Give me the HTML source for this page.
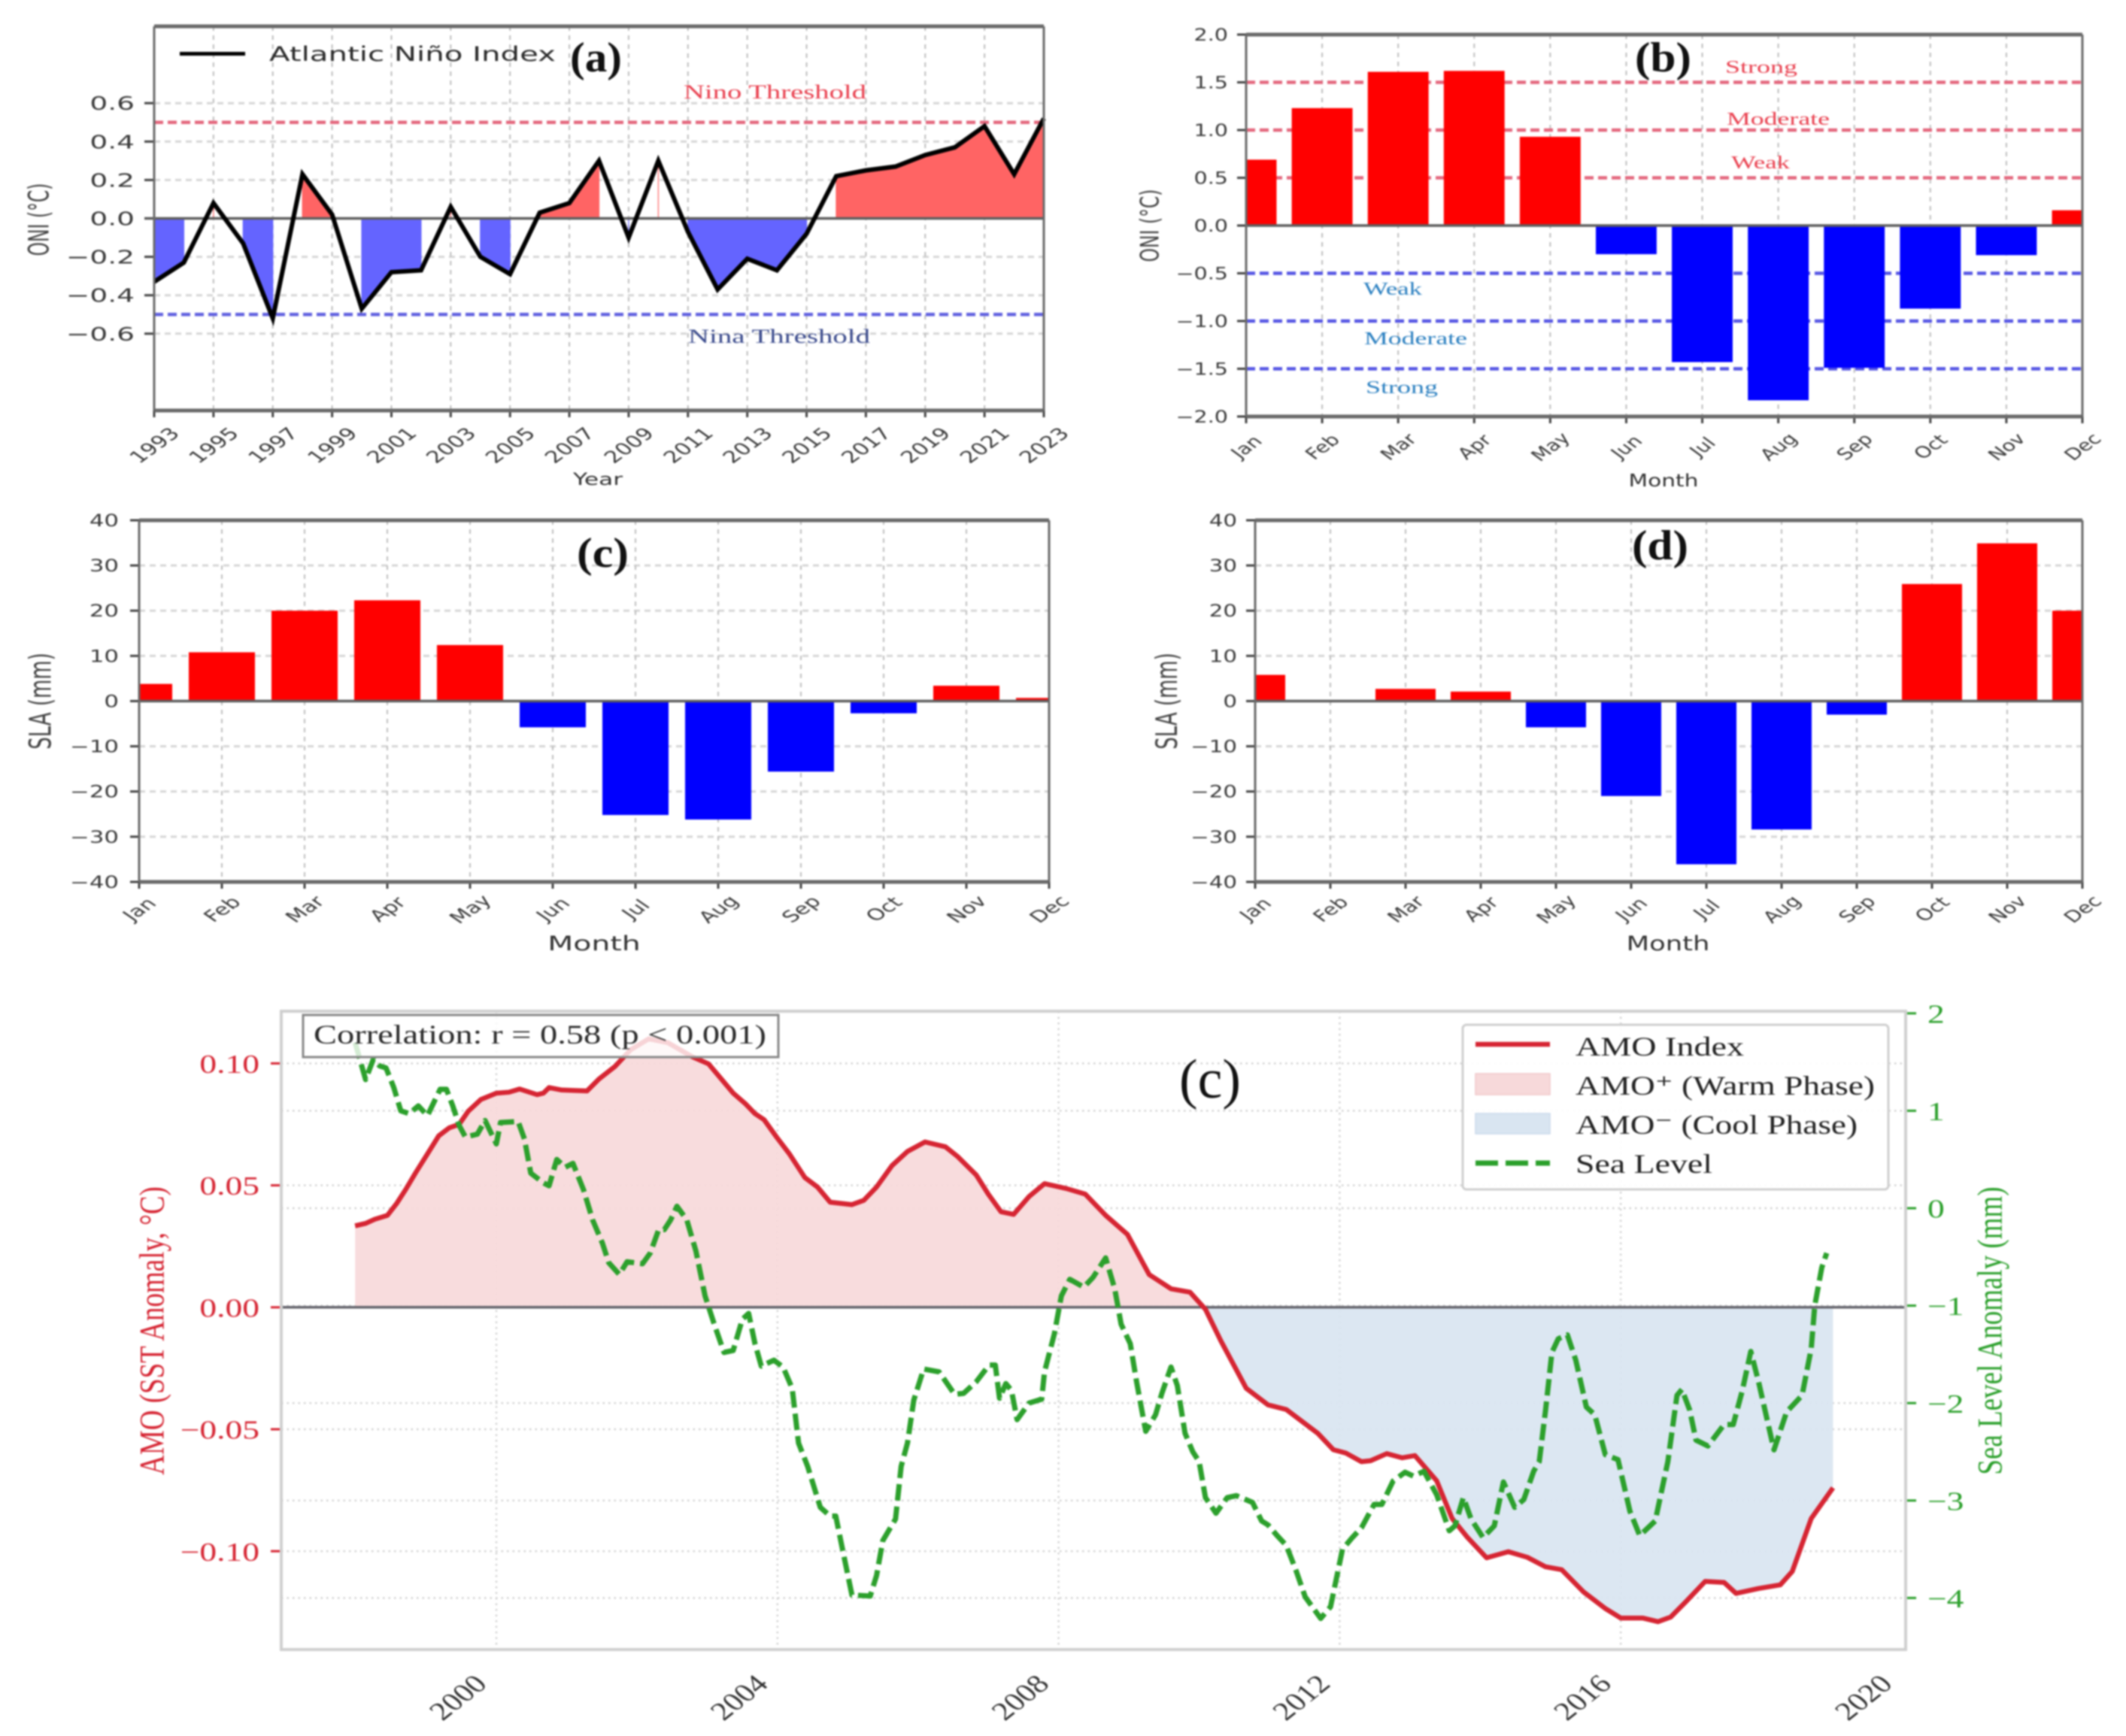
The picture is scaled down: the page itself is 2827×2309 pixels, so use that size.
<!DOCTYPE html>
<html lang="en">
<head>
<meta charset="utf-8">
<title>Atlantic Niño, ONI, SLA and AMO panels</title>
<style>
html,body{margin:0;padding:0;background:#fff;width:2827px;height:2309px;overflow:hidden}
svg{display:block;filter:blur(1px)}
</style>
</head>
<body>
<svg id="fig" xmlns="http://www.w3.org/2000/svg" width="2827" height="2309" viewBox="0 0 2827 2309"></svg>
<script>
// ---------- chart data ----------
const months = ['Jan','Feb','Mar','Apr','May','Jun','Jul','Aug','Sep','Oct','Nov','Dec'];
const ninoYears = [1993,1994,1995,1996,1997,1998,1999,2000,2001,2002,2003,2004,2005,2006,2007,2008,2009,2010,2011,2012,2013,2014,2015,2016,2017,2018,2019,2020,2021,2022,2023];
const ninoValues = [-0.33,-0.23,0.08,-0.13,-0.52,0.23,0.02,-0.47,-0.28,-0.27,0.06,-0.2,-0.29,0.03,0.08,0.3,-0.1,0.3,-0.07,-0.37,-0.21,-0.27,-0.08,0.22,0.25,0.27,0.33,0.37,0.48,0.23,0.52];
const ninoYTicks = [-0.6,-0.4,-0.2,0,0.2,0.4,0.6];
const ninoXTicks = [1993,1995,1997,1999,2001,2003,2005,2007,2009,2011,2013,2015,2017,2019,2021,2023];
const oniMonthly = [0.69,1.23,1.61,1.62,0.93,-0.3,-1.43,-1.83,-1.49,-0.87,-0.31,0.16];
const oniYTicks = [-2,-1.5,-1,-0.5,0,0.5,1,1.5,2];
const oniThresholds = [1.5,1,0.5,-0.5,-1,-1.5];
const slaMonthlyC = [3.8,10.8,20,22.3,12.4,-5.8,-25.2,-26.2,-15.6,-2.7,3.4,0.7];
const slaMonthlyD = [5.8,0,2.7,2.1,-5.8,-21,-36.1,-28.4,-3,25.9,34.9,20];
const slaYTicks = [-40,-30,-20,-10,0,10,20,30,40];
const amoYears = [1997.99,1998.14,1998.27,1998.45,1998.58,1998.71,1998.85,1999.02,1999.18,1999.33,1999.47,1999.6,1999.78,2000,2000.18,2000.33,2000.58,2000.67,2000.75,2000.93,2001.29,2001.46,2001.69,2001.91,2002.17,2002.44,2002.79,2003.02,2003.19,2003.37,2003.55,2003.68,2003.81,2003.99,2004.17,2004.39,2004.57,2004.75,2005.06,2005.23,2005.41,2005.63,2005.85,2006.1,2006.39,2006.56,2006.83,2007,2007.18,2007.36,2007.58,2007.8,2008.11,2008.38,2008.67,2008.98,2009.29,2009.6,2009.87,2010.09,2010.31,2010.67,2010.98,2011.24,2011.69,2011.91,2012.09,2012.31,2012.44,2012.67,2012.89,2013.07,2013.38,2013.6,2013.82,2014.09,2014.4,2014.67,2014.93,2015.16,2015.47,2015.78,2016,2016.31,2016.53,2016.71,2016.93,2017.2,2017.47,2017.64,2017.96,2018.27,2018.44,2018.71,2019.02];
const amoValues = [0.0334,0.0344,0.0361,0.0377,0.0425,0.0483,0.0551,0.0629,0.0703,0.0736,0.075,0.0804,0.0852,0.0878,0.0882,0.0895,0.0872,0.0878,0.0901,0.0891,0.0887,0.0936,0.0988,0.1056,0.1101,0.1085,0.1027,0.0998,0.094,0.0878,0.0833,0.0794,0.0769,0.0697,0.0629,0.0532,0.0493,0.0431,0.0421,0.0439,0.0493,0.0581,0.0639,0.0678,0.0658,0.0619,0.0542,0.0464,0.0392,0.0381,0.0454,0.0507,0.0487,0.0464,0.0377,0.0299,0.0134,0.0076,0.0062,-0.0008,-0.0138,-0.0332,-0.04,-0.0419,-0.0517,-0.0584,-0.0598,-0.0633,-0.0629,-0.06,-0.0617,-0.0608,-0.0711,-0.0866,-0.0944,-0.1027,-0.1002,-0.1025,-0.1064,-0.1076,-0.1167,-0.1235,-0.1274,-0.1274,-0.1289,-0.127,-0.1206,-0.1124,-0.1128,-0.1173,-0.1153,-0.1138,-0.1083,-0.0866,-0.074];
const seaYears = [1997.99,1998.14,1998.25,1998.34,1998.43,1998.54,1998.64,1998.76,1998.89,1999.02,1999.2,1999.29,1999.38,1999.47,1999.56,1999.73,1999.84,2000,2000.06,2000.31,2000.4,2000.49,2000.67,2000.75,2000.86,2000.98,2001.09,2001.24,2001.37,2001.51,2001.6,2001.75,2001.86,2002.08,2002.19,2002.31,2002.39,2002.48,2002.57,2002.71,2002.84,2002.97,2003.1,2003.24,2003.37,2003.5,2003.59,2003.68,2003.77,2003.95,2004.08,2004.21,2004.3,2004.43,2004.61,2004.75,2004.83,2004.92,2005.06,2005.32,2005.41,2005.5,2005.68,2005.76,2005.85,2005.94,2006.08,2006.3,2006.52,2006.65,2006.83,2007.01,2007.1,2007.16,2007.25,2007.33,2007.41,2007.58,2007.76,2007.8,2007.94,2008.04,2008.16,2008.36,2008.49,2008.67,2008.8,2008.89,2009.02,2009.11,2009.24,2009.38,2009.47,2009.6,2009.69,2009.8,2009.91,2010,2010.09,2010.24,2010.4,2010.53,2010.76,2010.89,2010.98,2011.11,2011.24,2011.38,2011.51,2011.73,2011.87,2012.04,2012.18,2012.31,2012.49,2012.6,2012.76,2012.93,2013.05,2013.2,2013.38,2013.56,2013.64,2013.76,2013.87,2014.04,2014.2,2014.33,2014.49,2014.62,2014.76,2014.84,2014.93,2015.02,2015.11,2015.24,2015.36,2015.51,2015.63,2015.78,2015.96,2016.13,2016.27,2016.49,2016.67,2016.8,2016.87,2016.98,2017.07,2017.24,2017.47,2017.6,2017.73,2017.85,2017.96,2018.18,2018.36,2018.58,2018.71,2018.76,2018.86,2018.93];
const seaValues = [1.7,1.32,1.53,1.46,1.44,1.24,1,0.97,1.05,0.95,1.22,1.22,1.05,0.85,0.73,0.76,0.9,0.66,0.88,0.89,0.71,0.36,0.26,0.23,0.5,0.42,0.46,0.19,-0.12,-0.36,-0.56,-0.68,-0.55,-0.57,-0.46,-0.22,-0.22,-0.12,0.02,-0.12,-0.44,-0.9,-1.19,-1.48,-1.46,-1.14,-1.08,-1.39,-1.62,-1.56,-1.63,-1.85,-2.41,-2.65,-3.07,-3.16,-3.16,-3.48,-3.97,-3.98,-3.77,-3.41,-3.19,-2.65,-2.41,-1.97,-1.65,-1.68,-1.91,-1.9,-1.78,-1.61,-1.61,-1.95,-1.8,-1.87,-2.17,-2,-1.96,-1.68,-1.29,-0.9,-0.73,-0.81,-0.71,-0.51,-0.83,-1.19,-1.39,-1.78,-2.29,-2.12,-1.9,-1.63,-1.82,-2.31,-2.5,-2.6,-2.97,-3.13,-2.97,-2.95,-3.02,-3.21,-3.25,-3.36,-3.46,-3.72,-3.99,-4.21,-4.09,-3.5,-3.38,-3.28,-3.04,-3.04,-2.8,-2.71,-2.75,-2.7,-2.94,-3.31,-3.26,-2.97,-3.19,-3.38,-3.26,-2.81,-3.07,-2.99,-2.7,-2.6,-2.07,-1.48,-1.34,-1.3,-1.56,-2.04,-2.12,-2.53,-2.58,-3.11,-3.36,-3.21,-2.6,-1.92,-1.86,-2.07,-2.38,-2.44,-2.22,-2.22,-1.87,-1.47,-1.78,-2.48,-2.09,-1.92,-1.44,-1,-0.61,-0.46];
const amoLeftTicks = [-0.1,-0.05,0,0.05,0.1];
const amoRightTicks = [-4,-3,-2,-1,0,1,2];
const amoXTicks = [2000,2004,2008,2012,2016,2020];

// ---------- helpers ----------
const SVG_NS = 'http://www.w3.org/2000/svg';
const fig = document.getElementById('fig');
const DEJAVU = '"DejaVu Sans", sans-serif';
const SERIF = '"Liberation Serif", serif';
let clipCount = 0;

function add(parent, tagName, attrs) {
  const el = document.createElementNS(SVG_NS, tagName);
  for (const k in attrs) el.setAttribute(k, attrs[k]);
  parent.appendChild(el);
  return el;
}
function mark(el, name) {
  
  
  return el;
}
function scale(d0, d1, r0, r1) {
  return function (v) { return r0 + (v - d0) * (r1 - r0) / (d1 - d0); };
}
function minusFmt(v, digits) {
  return (v < 0 ? '\u2212' : '') + Math.abs(v).toFixed(digits);
}
// stretched text: anamorphic x scale is applied after rotation, like the squeezed source image
function stretchText(parent, str, x, y, o) {
  const el = add(parent, 'text', {
    transform: 'translate(' + x + ',' + y + ') scale(' + (o.sx || 1) + ',1) rotate(' + (o.rot || 0) + ')',
    'font-family': o.family || DEJAVU,
    'font-size': o.size,
    'font-weight': o.weight || 'normal',
    fill: o.fill || '#333',
    'text-anchor': o.anchor || 'middle'
  });
  if (o.central) el.setAttribute('dy', '0.36em');
  el.textContent = str;
  return el;
}
// fixed-width text: glyphs stretched to an exact pixel length
function fitText(parent, str, x, y, len, o) {
  const el = add(parent, 'text', {
    x: x, y: y, textLength: len, lengthAdjust: 'spacingAndGlyphs',
    'font-family': o.family || SERIF,
    'font-size': o.size,
    'font-weight': o.weight || 'normal',
    fill: o.fill || '#222'
  });
  el.textContent = str;
  return el;
}
function makeClip(x, y, w, h) {
  const id = 'clip' + (clipCount++);
  const cp = add(fig, 'clipPath', { id: id });
  add(cp, 'rect', { x: x, y: y, width: w, height: h });
  return 'url(#' + id + ')';
}
function frame(g, box, prefix) {
  const sides = [
    ['top', box.l, box.t, box.r, box.t, 5],
    ['bottom', box.l, box.b, box.r, box.b, 5],
    ['left', box.l, box.t, box.l, box.b, 3],
    ['right', box.r, box.t, box.r, box.b, 3]
  ];
  sides.forEach(function (s) {
    const line = add(g, 'line', { x1: s[1], y1: s[2], x2: s[3], y2: s[4], stroke: '#6a6a6a', 'stroke-width': s[5] });
    mark(line, prefix + '-spine-' + s[0]);
  });
}
function hGrid(g, box, y, name) {
  const line = add(g, 'line', { x1: box.l, y1: y, x2: box.r, y2: y, stroke: '#d6d6d6', 'stroke-width': 3, 'stroke-dasharray': '8 6' });
  mark(line, name);
}
function vGrid(g, box, x, name) {
  const line = add(g, 'line', { x1: x, y1: box.t, x2: x, y2: box.b, stroke: '#bdbdbd', 'stroke-width': 2, 'stroke-dasharray': '6 6' });
  mark(line, name);
}
function tickMark(g, x1, y1, x2, y2, color, name) {
  const line = add(g, 'line', { x1: x1, y1: y1, x2: x2, y2: y2, stroke: color, 'stroke-width': 3 });
  mark(line, name);
}

// ---------- panel (a) ----------
(function () {
  const g = add(fig, 'g', {});
  mark(g, 'panel-a-atlantic-nino');
  const box = { l: 205, r: 1388, t: 35, b: 546 };
  const x = scale(1993, 2023, box.l, box.r);
  const y = scale(-1, 1, box.b, box.t);
  ninoYTicks.forEach(function (v) {
    if (v !== 0) hGrid(g, box, y(v), 'panel-a-y-grid');
    tickMark(g, box.l - 13, y(v), box.l, y(v), '#444', 'panel-a-y-tick');
    mark(stretchText(g, minusFmt(v, 1), 179, y(v), { size: 25, sx: 1.5, anchor: 'end', central: true, fill: '#3a3a3a' }), 'panel-a-y-tick-label');
  });
  ninoXTicks.forEach(function (v) {
    if (v !== 1993 && v !== 2023) vGrid(g, box, x(v), 'panel-a-x-grid');
    tickMark(g, x(v), box.b, x(v), box.b + 9, '#444', 'panel-a-x-tick');
    mark(stretchText(g, String(v), x(v), 592, { size: 22, sx: 1.39, rot: -45, central: true, fill: '#3a3a3a' }), 'panel-a-x-tick-label');
  });
  // fills: consecutive same-sign runs, without interpolating across zero
  let run = [];
  function flush() {
    if (!run.length) return;
    const positive = ninoValues[run[0]] > 0;
    const pts = run.map(function (i) { return x(ninoYears[i]) + ',' + y(ninoValues[i]); });
    pts.push(x(ninoYears[run[run.length - 1]]) + ',' + y(0));
    pts.push(x(ninoYears[run[0]]) + ',' + y(0));
    const col = positive ? '#ff6464' : '#6464ff';
    const area = add(g, 'polygon', { points: pts.join(' '), fill: col, stroke: col, 'stroke-width': 1.2 });
    mark(area, positive ? 'panel-a-positive-fill' : 'panel-a-negative-fill');
    run = [];
  }
  ninoValues.forEach(function (v, i) {
    if (run.length && (ninoValues[run[0]] > 0) !== (v > 0)) flush();
    run.push(i);
  });
  flush();
  [[0.5, '#e4687e', 'panel-a-nino-threshold-line'], [-0.5, '#6262e0', 'panel-a-nina-threshold-line']].forEach(function (t) {
    const line = add(g, 'line', { x1: box.l, y1: y(t[0]), x2: box.r, y2: y(t[0]), stroke: t[1], 'stroke-width': 4.5, 'stroke-dasharray': '12 6' });
    mark(line, t[2]);
  });
  const zero = add(g, 'line', { x1: box.l - 13, y1: y(0), x2: box.r, y2: y(0), stroke: '#5e5e5e', 'stroke-width': 3.5 });
  mark(zero, 'panel-a-zero-line');
  const clip = makeClip(box.l - 3, box.t, box.r - box.l + 6, box.b - box.t);
  const path = add(g, 'polyline', {
    points: ninoValues.map(function (v, i) { return x(ninoYears[i]) + ',' + y(v); }).join(' '),
    fill: 'none', stroke: '#000', 'stroke-width': 6, 'stroke-linejoin': 'miter', 'clip-path': clip
  });
  mark(path, 'panel-a-nino-index-line');
  frame(g, box, 'panel-a');
  const legendLine = add(g, 'line', { x1: 239, y1: 71.5, x2: 326, y2: 71.5, stroke: '#000', 'stroke-width': 5 });
  mark(legendLine, 'panel-a-legend-line');
  mark(fitText(g, 'Atlantic Ni\u00f1o Index', 358, 81, 381, { family: DEJAVU, size: 27, fill: '#2a2a2a' }), 'panel-a-legend-label');
  mark(fitText(g, '(a)', 758, 95, 69, { size: 56, weight: 'bold', fill: '#111' }), 'panel-a-title');
  mark(fitText(g, 'Nino Threshold', 909, 131, 243, { size: 26, fill: '#e9404f' }), 'nino-threshold-label');
  mark(fitText(g, 'Nina Threshold', 915, 456, 242, { size: 26, fill: '#3a4a8c' }), 'nina-threshold-label');
  mark(stretchText(g, 'ONI (\u00b0C)', 51, 292, { size: 23.5, sx: 1.6, rot: -90, central: true, fill: '#444' }), 'panel-a-y-axis-title');
  mark(stretchText(g, 'Year', 795, 645, { size: 22, sx: 1.42, fill: '#333' }), 'panel-a-x-axis-title');
})();

// ---------- monthly bar panels ----------
function barPanel(cfg) {
  const g = add(fig, 'g', {});
  mark(g, cfg.id);
  const box = cfg.box;
  const x = scale(0, 11, box.l, box.r);
  const y = scale(cfg.yMin, cfg.yMax, box.b, box.t);
  const thresholds = cfg.thresholds || [];
  const step = x(1) - x(0);
  cfg.yTicks.forEach(function (v) {
    if (v !== 0 && v !== cfg.yMin && v !== cfg.yMax && thresholds.indexOf(v) < 0) hGrid(g, box, y(v), cfg.prefix + '-y-grid');
    tickMark(g, box.l - 12, y(v), box.l, y(v), '#444', cfg.prefix + '-y-tick');
    mark(stretchText(g, minusFmt(v, cfg.digits), cfg.yLabelX, y(v), { size: 22, sx: cfg.sx, anchor: 'end', central: true, fill: '#3a3a3a' }), cfg.prefix + '-y-tick-label');
  });
  months.forEach(function (m, i) {
    if (i > 0 && i < 11) vGrid(g, box, x(i), cfg.prefix + '-x-grid');
    tickMark(g, x(i), box.b, x(i), box.b + 9, '#444', cfg.prefix + '-x-tick');
    mark(stretchText(g, m, x(i), cfg.xLabelY, { size: 21, sx: cfg.sx + 0.05, rot: -45, central: true, fill: '#3a3a3a' }), cfg.prefix + '-x-tick-label');
  });
  thresholds.forEach(function (t) {
    const line = add(g, 'line', { x1: box.l, y1: y(t), x2: box.r, y2: y(t), stroke: t > 0 ? '#e4687e' : '#5656e4', 'stroke-width': 4.5, 'stroke-dasharray': '12 6' });
    mark(line, cfg.prefix + '-threshold-line');
  });
  const clip = makeClip(box.l, box.t, box.r - box.l, box.b - box.t);
  cfg.values.forEach(function (v, i) {
    const w = step * 0.8;
    const bar = add(g, 'rect', {
      x: x(i) - w / 2, y: Math.min(y(v), y(0)), width: w, height: Math.abs(y(v) - y(0)),
      fill: v >= 0 ? '#ff0000' : '#0000ff', 'clip-path': clip
    });
    mark(bar, cfg.prefix + '-bar-' + months[i].toLowerCase());
  });
  const zero = add(g, 'line', { x1: box.l, y1: y(0), x2: box.r, y2: y(0), stroke: '#5e5e5e', 'stroke-width': 3.5 });
  mark(zero, cfg.prefix + '-zero-line');
  frame(g, box, cfg.prefix);
  mark(stretchText(g, cfg.yTitle, cfg.yTitleX, y(0), { size: cfg.yTitleSize, sx: cfg.yTitleSx, rot: -90, central: true, fill: '#444' }), cfg.prefix + '-y-axis-title');
  mark(stretchText(g, 'Month', cfg.xTitleX, cfg.xTitleY, { size: cfg.xTitleSize, sx: cfg.xTitleSx, fill: '#333' }), cfg.prefix + '-x-axis-title');
  mark(fitText(g, cfg.tag, cfg.tagX, cfg.tagY, cfg.tagW, { size: 56, weight: 'bold', fill: '#111' }), cfg.prefix + '-title');
  return g;
}

const gB = barPanel({
  id: 'panel-b-oni-monthly', prefix: 'panel-b', box: { l: 1657, r: 2769, t: 46, b: 554 },
  yMin: -2, yMax: 2, yTicks: oniYTicks, digits: 1, values: oniMonthly, thresholds: oniThresholds,
  yLabelX: 1633, xLabelY: 594, sx: 1.3, yTitle: 'ONI (\u00b0C)', yTitleX: 1528, yTitleSize: 23.5, yTitleSx: 1.45,
  xTitleX: 2212, xTitleY: 647, xTitleSize: 23, xTitleSx: 1.29, tag: '(b)', tagX: 2174, tagY: 95, tagW: 75
});
mark(fitText(gB, 'Strong', 2294, 97, 96, { size: 24, fill: '#e9404f' }), 'strong-el-nino-label');
mark(fitText(gB, 'Moderate', 2296, 166, 137, { size: 24, fill: '#e9404f' }), 'moderate-el-nino-label');
mark(fitText(gB, 'Weak', 2302, 224, 78, { size: 24, fill: '#e9404f' }), 'weak-el-nino-label');
mark(fitText(gB, 'Weak', 1813, 392, 78, { size: 24, fill: '#2a7fc0' }), 'weak-la-nina-label');
mark(fitText(gB, 'Moderate', 1814, 458, 137, { size: 24, fill: '#2a7fc0' }), 'moderate-la-nina-label');
mark(fitText(gB, 'Strong', 1816, 523, 96, { size: 24, fill: '#2a7fc0' }), 'strong-la-nina-label');

barPanel({
  id: 'panel-c-sla-monthly', prefix: 'panel-c', box: { l: 185, r: 1395, t: 692, b: 1173 },
  yMin: -40, yMax: 40, yTicks: slaYTicks, digits: 0, values: slaMonthlyC,
  yLabelX: 158, xLabelY: 1209, sx: 1.4, yTitle: 'SLA (mm)', yTitleX: 53, yTitleSize: 26, yTitleSx: 1.55,
  xTitleX: 790, xTitleY: 1264, xTitleSize: 27, xTitleSx: 1.46, tag: '(c)', tagX: 767, tagY: 754, tagW: 69
});
barPanel({
  id: 'panel-d-sla-monthly', prefix: 'panel-d', box: { l: 1669, r: 2769, t: 692, b: 1173 },
  yMin: -40, yMax: 40, yTicks: slaYTicks, digits: 0, values: slaMonthlyD,
  yLabelX: 1645, xLabelY: 1209, sx: 1.33, yTitle: 'SLA (mm)', yTitleX: 1551, yTitleSize: 26, yTitleSx: 1.5,
  xTitleX: 2218, xTitleY: 1264, xTitleSize: 27, xTitleSx: 1.31, tag: '(d)', tagX: 2170, tagY: 744, tagW: 75
});

// ---------- bottom AMO panel ----------
(function () {
  const RED = '#d62533', GREEN = '#2ca02c';
  const g = add(fig, 'g', {});
  mark(g, 'panel-amo-sea-level');
  const box = { l: 374, r: 2534, t: 1345, b: 2194 };
  const x = scale(2000, 2004, 660, 1033.8);
  const yL = scale(0, 0.1, 1738.8, 1414.4);
  const yR = scale(0, 1, 1607, 1477.4);
  function dotted(x1, y1, x2, y2, name) {
    const line = add(g, 'line', { x1: x1, y1: y1, x2: x2, y2: y2, stroke: '#d2d2d2', 'stroke-width': 2.4, 'stroke-dasharray': '2.5 5' });
    mark(line, name);
  }
  amoLeftTicks.forEach(function (v) {
    dotted(box.l, yL(v), box.r, yL(v), 'amo-left-y-grid');
    tickMark(g, box.l - 14, yL(v), box.l, yL(v), RED, 'amo-left-y-tick');
    mark(stretchText(g, minusFmt(v, 2), 345, yL(v), { size: 35, sx: 1.3, anchor: 'end', central: true, family: SERIF, fill: RED }), 'amo-left-y-tick-label');
  });
  amoRightTicks.forEach(function (v) {
    if (v < 2) dotted(box.l, yR(v), box.r, yR(v), 'amo-right-y-grid');
    tickMark(g, box.r, yR(v), box.r + 14, yR(v), GREEN, 'amo-right-y-tick');
    mark(stretchText(g, minusFmt(v, 0), 2563, yR(v), { size: 35, sx: 1.3, anchor: 'start', central: true, family: SERIF, fill: GREEN }), 'amo-right-y-tick-label');
  });
  amoXTicks.forEach(function (v) {
    if (x(v) < box.r - 10) dotted(x(v), box.t, x(v), box.b, 'amo-x-grid');
    mark(stretchText(g, String(v), x(v) - 52, 2257, { size: 34, sx: 1.27, rot: -45, central: true, family: SERIF, fill: '#333' }), 'amo-x-tick-label');
  });
  const pts = amoValues.map(function (v, i) { return x(amoYears[i]) + ',' + yL(v); });
  const base = x(amoYears[amoYears.length - 1]) + ',' + yL(0) + ' ' + x(amoYears[0]) + ',' + yL(0);
  const clipUp = makeClip(box.l, box.t, box.r - box.l, yL(0) - box.t);
  const clipDown = makeClip(box.l, yL(0), box.r - box.l, box.b - yL(0));
  mark(add(g, 'polygon', { points: pts.join(' ') + ' ' + base, fill: '#f7d9da', 'fill-opacity': 0.92, 'clip-path': clipUp }), 'amo-warm-phase-fill');
  mark(add(g, 'polygon', { points: pts.join(' ') + ' ' + base, fill: '#d9e5f1', 'fill-opacity': 0.92, 'clip-path': clipDown }), 'amo-cool-phase-fill');
  const zero = add(g, 'line', { x1: box.l, y1: yL(0), x2: box.r, y2: yL(0), stroke: '#64646c', 'stroke-width': 3.5 });
  mark(zero, 'amo-zero-line');
  mark(add(g, 'polyline', { points: pts.join(' '), fill: 'none', stroke: RED, 'stroke-width': 6.5, 'stroke-linejoin': 'round' }), 'amo-index-line');
  mark(add(g, 'polyline', {
    points: seaValues.map(function (v, i) { return x(seaYears[i]) + ',' + yR(v); }).join(' '),
    fill: 'none', stroke: GREEN, 'stroke-width': 7, 'stroke-dasharray': '22 8', 'stroke-linejoin': 'round'
  }), 'sea-level-line');
  mark(add(g, 'rect', { x: box.l, y: box.t, width: box.r - box.l, height: box.b - box.t, fill: 'none', stroke: '#cfcfcf', 'stroke-width': 4 }), 'amo-plot-frame');

  // correlation box
  mark(add(g, 'rect', { x: 403, y: 1350, width: 632, height: 56, fill: '#fff', 'fill-opacity': 0.8, stroke: '#888', 'stroke-width': 3 }), 'correlation-box');
  mark(fitText(g, 'Correlation: r = 0.58 (p < 0.001)', 417, 1388, 602, { size: 36, fill: '#2a2a2a' }), 'correlation-label');
  mark(fitText(g, '(c)', 1568, 1460, 82, { size: 74, fill: '#111' }), 'amo-panel-title');

  // legend
  mark(add(g, 'rect', { x: 1945, y: 1363, width: 566, height: 219, rx: 5, fill: '#fff', 'fill-opacity': 0.92, stroke: '#cfcfcf', 'stroke-width': 3 }), 'amo-legend-box');
  mark(add(g, 'line', { x1: 1962, y1: 1389, x2: 2061, y2: 1389, stroke: RED, 'stroke-width': 6.5 }), 'legend-amo-index-line');
  mark(add(g, 'rect', { x: 1962, y: 1428, width: 99, height: 28, fill: '#f7d9da', stroke: '#f0c8ca', 'stroke-width': 1.5 }), 'legend-warm-phase-patch');
  mark(add(g, 'rect', { x: 1962, y: 1481, width: 99, height: 27, fill: '#d9e5f1', stroke: '#c9d9ea', 'stroke-width': 1.5 }), 'legend-cool-phase-patch');
  mark(add(g, 'line', { x1: 1962, y1: 1547, x2: 2061, y2: 1547, stroke: GREEN, 'stroke-width': 7, 'stroke-dasharray': '30 10' }), 'legend-sea-level-line');
  mark(fitText(g, 'AMO Index', 2095, 1404, 224, { size: 36 }), 'legend-amo-index-label');
  mark(fitText(g, 'AMO\u207A (Warm Phase)', 2095, 1456, 398, { size: 36 }), 'legend-warm-phase-label');
  mark(fitText(g, 'AMO\u207B (Cool Phase)', 2095, 1508, 375, { size: 36 }), 'legend-cool-phase-label');
  mark(fitText(g, 'Sea Level', 2095, 1560, 182, { size: 36 }), 'legend-sea-level-label');

  mark(stretchText(g, 'AMO (SST Anomaly, \u00b0C)', 201, 1770, { size: 37, sx: 1.25, rot: -90, central: true, family: SERIF, fill: RED }), 'amo-y-axis-title');
  mark(stretchText(g, 'Sea Level Anomaly (mm)', 2645, 1770, { size: 37, sx: 1.25, rot: -90, central: true, family: SERIF, fill: GREEN }), 'sea-level-y-axis-title');
})();
</script>
</body>
</html>
